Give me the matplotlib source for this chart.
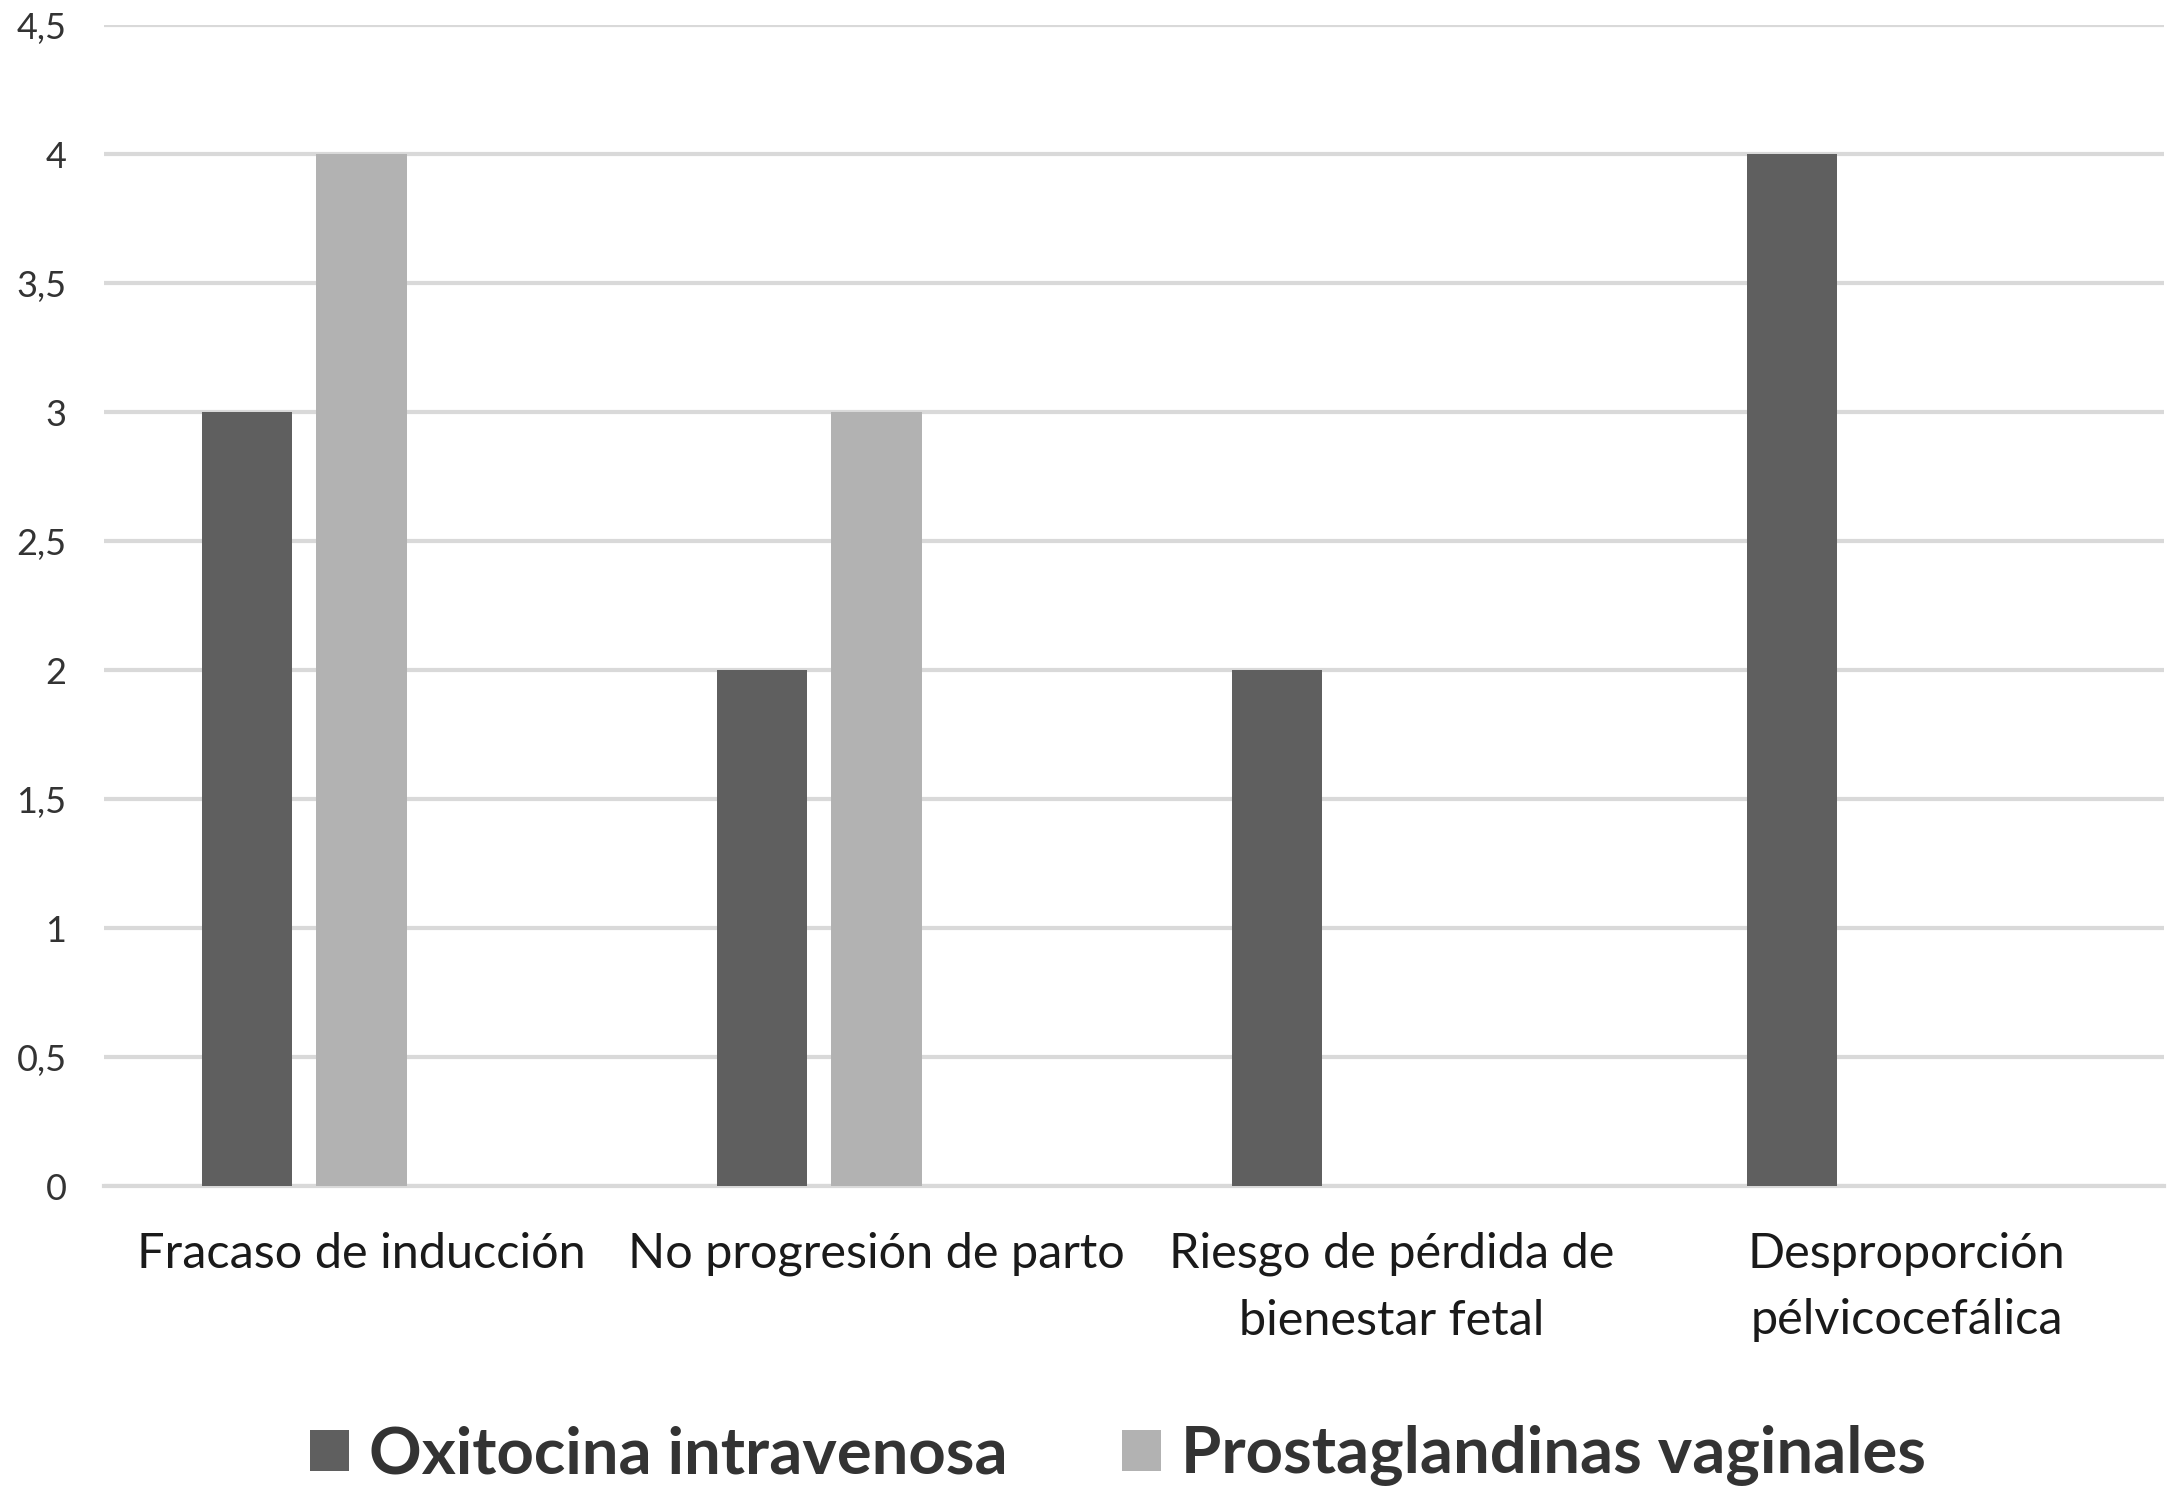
import matplotlib
matplotlib.use("Agg")
import matplotlib.pyplot as plt
import numpy as np
from matplotlib.ticker import FuncFormatter, MultipleLocator

categories = ["Fracaso de inducción", "No progresión de parto",
              "Riesgo de pérdida de\nbienestar fetal", "Desproporción\npélvicocefálica"]
oxitocina = [3, 2, 2, 4]
prostaglandinas = [4, 3, 0, 0]
series_names = ["Oxitocina intravenosa", "Prostaglandinas vaginales"]
colors = ["#5f5f5f", "#b2b2b2"]

plt.rcParams['font.family'] = ['Lato', 'DejaVu Sans']

fig = plt.figure(figsize=(21.75, 15.05), dpi=100)
ax = fig.add_axes([104/2175, 1-1186/1505, (2164-104)/2175, (1186-25)/1505])

x = np.arange(len(categories))
w = 0.175
step = 0.222
ax.bar(x - step, oxitocina, width=w, color=colors[0], label=series_names[0], zorder=3)
ax.bar(x, [v if v > 0 else np.nan for v in prostaglandinas], width=w, color=colors[1],
       label=series_names[1], zorder=3)

ax.set_xlim(-0.5, len(categories) - 0.5)
ax.set_ylim(0, 4.5)
ax.yaxis.set_major_locator(MultipleLocator(0.5))
ax.yaxis.set_major_formatter(FuncFormatter(lambda v, p: ('%g' % v).replace('.', ',')))
ax.grid(axis='y', color='#d9d9d9', linewidth=3, zorder=0)
for s in ['top', 'right', 'left']:
    ax.spines[s].set_visible(False)
ax.spines['bottom'].set_color('#d9d9d9')
ax.spines['bottom'].set_linewidth(3)
ax.spines['bottom'].set_zorder(1)
ax.tick_params(axis='y', length=0, pad=27, labelsize=26, labelcolor='#333333')
ax.tick_params(axis='x', length=0, pad=33, labelsize=35, labelcolor='#1a1a1a')
ax.set_xticks(x)
ax.set_xticklabels(categories, linespacing=1.62, va='top')

leg = fig.legend(loc='center', bbox_to_anchor=(0.514, 1 - 1456/1505), ncol=2, frameon=False,
                 prop={'size': 47, 'weight': 'bold'}, handlelength=0.6, handleheight=0.6,
                 handletextpad=0.3, columnspacing=1.75)
for t in leg.get_texts():
    t.set_color('#333333')

fig.savefig("out.png", dpi=100, facecolor='white')
